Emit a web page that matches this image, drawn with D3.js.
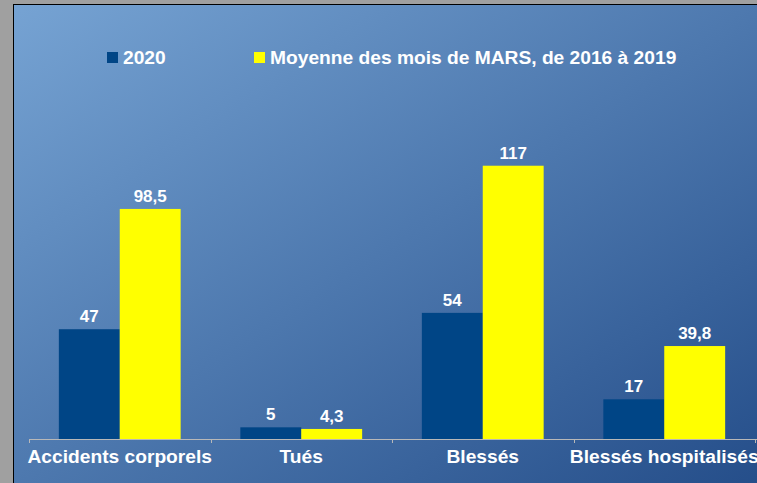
<!DOCTYPE html>
<html>
<head>
<meta charset="utf-8">
<script src="https://cdn.jsdelivr.net/npm/d3@7"></script>
<style>
  body { margin: 0; background: #a0a0a0; }
  svg { display: block; font-family: "Liberation Sans", Arial, sans-serif; font-weight: bold; }
</style>
</head>
<body>
<div id="chart"></div>
<script>
// data
const categories = ["Accidents corporels", "Tués", "Blessés", "Blessés hospitalisés"];
const seriesNames = ["2020", "Moyenne des mois de MARS, de 2016 à 2019"];
const values2020 = [47, 5, 54, 17];
const valuesMoyenne = [98.5, 4.3, 117, 39.8];

const colors = ["#004586", "#ffff00"];

const W = 757, H = 483;

let svg = d3.select("#chart").append("svg")
    .attr("width", W)
    .attr("height", H);

// background gradient
let defs = svg.append("defs");
let grad = defs.append("linearGradient")
    .attr("id", "bg")
    .attr("x1", "0").attr("y1", "0")
    .attr("x2", "1").attr("y2", "1");
grad.append("stop").attr("offset", "0%").attr("stop-color", "#76a3d3");
grad.append("stop").attr("offset", "100%").attr("stop-color", "#244d89");

svg.append("rect")
    .attr("x", 0).attr("y", 0)
    .attr("width", W).attr("height", H)
    .attr("fill", "#a0a0a0");

svg.append("rect")
    .attr("x", 13.5).attr("y", 4.5)
    .attr("width", W).attr("height", H)
    .attr("fill", "url(#bg)")
    .attr("stroke", "#000")
    .attr("stroke-width", 1);

// scales
let x0 = d3.scaleBand()
    .domain(categories)
    .range([29, 755])
    .padding(0);

let x1 = d3.scaleBand()
    .domain(seriesNames)
    .range([0, x0.bandwidth()])
    .paddingInner(0)
    .paddingOuter(0.49);

let y = d3.scaleLinear()
    .domain([0, 140])
    .range([439, 112]);

let data = categories.map((c, i) => ({
    cat: c,
    vals: [
        {s: seriesNames[0], v: values2020[i], c: colors[0]},
        {s: seriesNames[1], v: valuesMoyenne[i], c: colors[1]}
    ]
}));

let groups = svg.selectAll(".group")
    .data(data)
    .enter().append("g")
    .attr("class", "group")
    .attr("transform", d => "translate(" + x0(d.cat) + ",0)");

groups.selectAll("rect")
    .data(d => d.vals)
    .enter().append("rect")
    .attr("x", d => x1(d.s))
    .attr("y", d => y(d.v))
    .attr("width", x1.bandwidth())
    .attr("height", d => y(0) - y(d.v))
    .attr("fill", d => d.c);

const fmt = v => String(v).replace(".", ",");

groups.selectAll(".bar-label")
    .data(d => d.vals)
    .enter().append("text")
    .attr("class", "bar-label")
    .attr("x", d => x1(d.s) + x1.bandwidth() / 2)
    .attr("y", d => y(d.v) - 7)
    .attr("text-anchor", "middle")
    .attr("fill", "#fff")
    .style("font-size", "17px")
    .text(d => fmt(d.v));

// x axis
let xAxis = d3.axisBottom(x0).tickSize(0).tickPadding(0).tickFormat("");
let axisG = svg.append("g")
    .attr("transform", "translate(0," + y(0) + ")")
    .call(xAxis);
axisG.select(".domain").attr("stroke", "#b8b8b8").attr("d", "M29,0.5H757");
axisG.selectAll(".tick").remove();

let bounds = categories.map(c => x0(c)).concat([x0.range()[1]]);
axisG.selectAll(".sep")
    .data(bounds)
    .enter().append("line")
    .attr("class", "sep")
    .attr("x1", d => Math.round(d) + 0.5)
    .attr("x2", d => Math.round(d) + 0.5)
    .attr("y1", 0)
    .attr("y2", 4)
    .attr("stroke", "#b8b8b8");

svg.selectAll(".cat-label")
    .data(categories)
    .enter().append("text")
    .attr("class", "cat-label")
    .attr("x", d => x0(d) + x0.bandwidth() / 2)
    .attr("y", 463)
    .attr("text-anchor", "middle")
    .attr("fill", "#fff")
    .style("font-size", "19.2px")
    .text(d => d);

// legend
let legendPos = [107, 254];
let legend = svg.selectAll(".legend")
    .data(seriesNames)
    .enter().append("g")
    .attr("class", "legend")
    .attr("transform", (d, i) => "translate(" + legendPos[i] + ",0)");

legend.append("rect")
    .attr("x", 0).attr("y", 52)
    .attr("width", 11).attr("height", 11)
    .attr("fill", (d, i) => colors[i]);

legend.append("text")
    .attr("x", 16)
    .attr("y", 64)
    .attr("fill", "#fff")
    .style("font-size", "19.2px")
    .text(d => d);
</script>
</body>
</html>
